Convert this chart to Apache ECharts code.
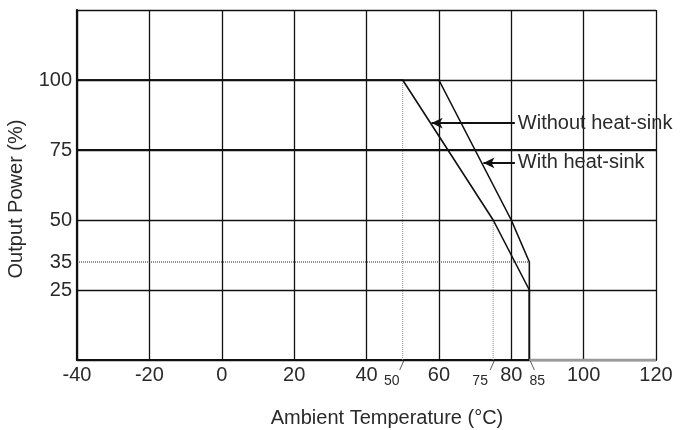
<!DOCTYPE html>
<html><head><meta charset="utf-8">
<script src="https://cdn.jsdelivr.net/npm/echarts@6/dist/echarts.min.js"></script>
<style>html,body{margin:0;padding:0;background:#fff}#c{width:694px;height:430px}</style>
</head><body><div id="c"></div>
<script>
// ---- data ----
const xTicks = [-40, -20, 0, 20, 40, 60, 80, 100, 120];
const yTicks = [25, 35, 50, 75, 100];
const withoutTemp = [-40, 50, 75, 85, 85];
const withoutPower = [100, 100, 50, 25, 0];
const withTemp = [-40, 60, 80, 85, 85];
const withPower = [100, 100, 50, 35, 0];
const breakTemps = [50, 75, 85];
const breakLabels = ['50', '75', '85'];
const seriesNames = ['Without heat-sink', 'With heat-sink'];
// arrow annotations: [tipTemp, tailTemp, power]
const arrowTip = [58, 72.3];
const arrowTail = [81, 81];
const arrowPower = [84.6, 70.4];
// dotted guides
const guide50 = [[50, 0], [50, 100]];
const guide75 = [[75, 0], [75, 50]];
const guide35 = [[-40, 35], [85, 35]];
const axisGray = [[85, 0], [120, 0]];

const FONT = '"Liberation Sans", Arial, Helvetica, sans-serif';
const chart = echarts.init(document.getElementById('c'));
const zip = (a, b) => a.map((v, i) => [v, b[i]]);

const option = {
  animation: false,
  backgroundColor: '#fff',
  grid: { left: 77, right: 38, top: 10, bottom: 70 },
  xAxis: {
    type: 'value', min: xTicks[0], max: xTicks[xTicks.length - 1], interval: 20,
    axisLine: { show: true, onZero: false, lineStyle: { color: '#111', width: 2.2 } },
    axisTick: { show: false },
    axisLabel: { fontSize: 20, color: '#2a2a2a', fontFamily: FONT, margin: 5,
      customValues: xTicks },
    splitLine: { show: true, lineStyle: { color: '#111', width: 1.3 } }
  },
  yAxis: {
    type: 'value', min: 0, max: 125, interval: 25,
    axisLine: { show: true, onZero: false, lineStyle: { color: '#111', width: 2.2 } },
    axisTick: { show: false },
    axisLabel: { fontSize: 20, color: '#2a2a2a', fontFamily: FONT, margin: 5,
      customValues: yTicks },
    splitLine: { show: true, lineStyle: { color: '#111', width: 1.3 } }
  },
  series: [
    { type: 'line', data: guide50, symbol: 'none', silent: true,
      lineStyle: { color: '#888', width: 1, type: [1, 1] } },
    { type: 'line', data: guide75, symbol: 'none', silent: true,
      lineStyle: { color: '#888', width: 1, type: [1, 1] } },
    { type: 'line', data: guide35, symbol: 'none', silent: true,
      lineStyle: { color: '#222', width: 1, type: [1, 1] } },
    { type: 'line', data: axisGray, symbol: 'none', silent: true, z: 5,
      lineStyle: { color: '#9a9a9a', width: 2.4 } },
    { type: 'line', data: [[-40, 75], [120, 75]], symbol: 'none', silent: true,
      lineStyle: { color: '#111', width: 2 } },
    { name: seriesNames[0], type: 'line', data: zip(withoutTemp, withoutPower), symbol: 'none',
      lineStyle: { color: '#111', width: 1.6 },
      markLine: { silent: true, symbol: ['arrow', 'none'], symbolSize: [8, 11],
        lineStyle: { color: '#111', width: 2, type: 'solid' },
        label: { show: true, position: 'end', formatter: seriesNames[0], fontSize: 20,
          color: '#2a2a2a', fontFamily: FONT, distance: 3 },
        data: [[{ coord: [arrowTip[0], arrowPower[0]] }, { coord: [arrowTail[0], arrowPower[0]] }]] } },
    { name: seriesNames[1], type: 'line', data: zip(withTemp, withPower), symbol: 'none',
      lineStyle: { color: '#111', width: 1.6 },
      markLine: { silent: true, symbol: ['arrow', 'none'], symbolSize: [8, 11],
        lineStyle: { color: '#111', width: 2, type: 'solid' },
        label: { show: true, position: 'end', formatter: seriesNames[1], fontSize: 20,
          color: '#2a2a2a', fontFamily: FONT, distance: 3 },
        data: [[{ coord: [arrowTip[1], arrowPower[1]] }, { coord: [arrowTail[1], arrowPower[1]] }]] } }
  ]
};
chart.setOption(option);

// break-point labels with slanted leaders + axis titles
const lblDx = [-11, -13, 8];
const leadDx = [-4, -4, 4];
const els = [];
breakTemps.forEach((t, i) => {
  const p = chart.convertToPixel({ gridIndex: 0 }, [t, 0]);
  els.push({ type: 'line', silent: true,
    shape: { x1: p[0] + 1, y1: p[1] + 1, x2: p[0] + 1 + leadDx[i], y2: p[1] + 10 },
    style: { stroke: '#333', lineWidth: 0.8 } });
  els.push({ type: 'text', silent: true, x: p[0] + lblDx[i], y: p[1] + 21,
    style: { text: breakLabels[i], font: '14px ' + FONT, fill: '#2a2a2a', align: 'center', verticalAlign: 'middle' } });
});
els.push({ type: 'text', silent: true, x: 387, y: 418,
  style: { text: 'Ambient Temperature (°C)', font: '20px ' + FONT, fill: '#2a2a2a', align: 'center', verticalAlign: 'middle' } });
els.push({ type: 'text', silent: true, x: 16, y: 199, rotation: Math.PI / 2,
  style: { text: 'Output Power (%)', font: '20px ' + FONT, fill: '#2a2a2a', align: 'center', verticalAlign: 'middle' } });
chart.setOption({ graphic: { elements: els } });
</script></body></html>
